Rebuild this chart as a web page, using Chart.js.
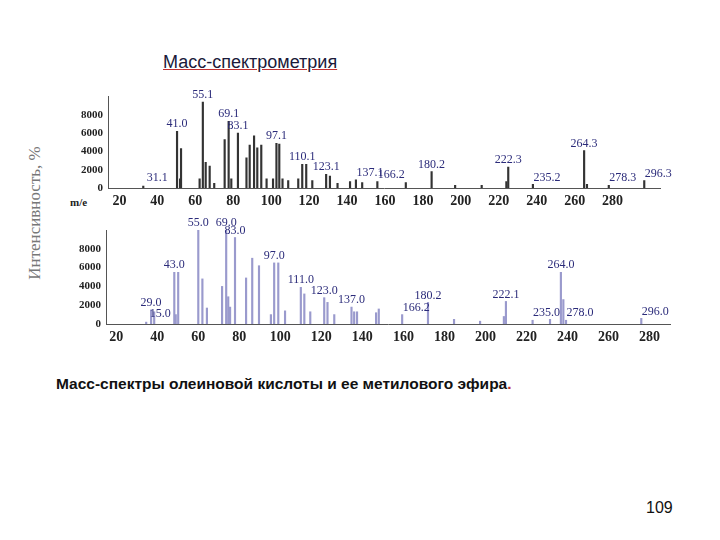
<!DOCTYPE html>
<html><head><meta charset="utf-8">
<script src="https://cdn.jsdelivr.net/npm/chart.js@4"></script>
<style>
body{margin:0;width:720px;height:540px;background:#fff;position:relative;overflow:hidden;font-family:"Liberation Sans",Arial,sans-serif}
.c{position:absolute}
#t{position:absolute;left:163px;top:52px;font-size:18px;color:#1a1a3a;text-decoration:underline;text-decoration-color:#c03030}
#cap{position:absolute;left:56px;top:375px;font-size:15.5px;font-weight:bold;color:#111}
#pg{position:absolute;left:646px;top:499px;font-size:16px;color:#111}
#yl{position:absolute;left:-45px;top:203px;width:160px;text-align:center;transform:rotate(-90deg);font-family:"Liberation Serif",serif;font-size:17px;color:#777}
#me{position:absolute;left:70px;top:196px;font-family:"Liberation Serif",serif;font-weight:bold;font-size:11px;color:#222}
</style></head><body>
<div id="t">Масс-спектрометрия</div>
<div id="yl">Интенсивность, %</div>
<div id="me">m/e</div>
<div class="c" style="left:60px;top:88px;width:630px;height:125px"><canvas id="c1"></canvas></div>
<div class="c" style="left:58px;top:215px;width:622px;height:135px"><canvas id="c2"></canvas></div>
<div id="cap">Масс-спектры олеиновой кислоты и ее метилового эфира<span style="color:#c03030">.</span></div>
<div id="pg">109</div>
<script>
const xTicks=[20,40,60,80,100,120,140,160,180,200,220,240,260,280];
const yTicks=[0,2000,4000,6000,8000];
// top spectrum (oleic acid)
const mz1=[32.6,50.4,52,52.5,62.3,64,65.5,67.6,70,75.5,77.6,79,82.5,87,88.7,91,92.7,94.8,97.6,101,102.8,104.3,106,109,114.3,116.4,118.5,121.7,129,131,135,141.6,144.7,148,156,171,184.6,197,211,224,225,238,265,266.5,278,296.7];
const int1=[200,6200,1000,4300,1000,9400,2800,2400,500,5300,7300,1000,6000,3300,4700,5700,4400,4700,1000,1000,4900,4800,1000,800,1000,2600,2600,800,1500,1300,500,700,900,600,700,600,1800,300,300,700,2300,400,4100,400,300,800];
const lab1=[["31.1",32.6],["41.0",50.4],["55.1",64],["69.1",77.6],["83.1",82.5],["97.1",102.8],["110.1",116.4],["123.1",129],["137.1",144.7],["166.2",156],["180.2",184.6],["222.3",225],["235.2",238],["264.3",265],["278.3",278],["296.3",296.7]];
// bottom spectrum (methyl ester)
const mz2=[34.6,37,38.5,48.3,49,50.2,60,62,64.2,71.6,73.6,74.6,75.5,77.9,83.3,86.3,89.6,95.4,97,99,102.3,110,111.7,114.6,121.4,123,126.3,134.7,136,137.4,146.7,148,159.4,172,184.7,197.4,209,210,223,231.5,236.8,238,239.3,276];
const int2=[200,1500,1300,5500,1000,5500,10000,4800,1700,4000,10000,2900,1800,9200,4900,7000,6200,1000,6500,6500,1400,3900,3200,1300,2800,2300,1000,1800,1300,1300,1200,1600,1000,2300,500,300,800,2400,400,500,5500,2600,400,600];
const lab2=[["15.0",34.6],["29.0",37],["43.0",48.3],["55.0",60],["69.0",73.6],["83.0",77.9],["97.0",97],["111.0",110],["123.0",121.4],["137.0",134.7],["166.2",159.4],["180.2",172],["222.1",210],["235.0",223],["264.0",236.8],["278.0",239.3],["296.0",276]];

const labelPlugin={id:'lab',afterDatasetsDraw(ch,a,o){
  const ctx=ch.ctx,xs=ch.scales.x,ys=ch.scales.y,d=ch.data.datasets[0].data;
  ctx.save();ctx.font='12px "Liberation Serif",serif';ctx.fillStyle='#2b2b7a';ctx.textAlign='center';ctx.textBaseline='bottom';
  ch.options.plugins.lab.items.forEach(([t,m])=>{const p=d.find(q=>q.x===m);const yy=ys.getPixelForValue(Math.max(p.y,300));ctx.fillText(t,xs.getPixelForValue(m)+(p.y<1500?14:0),yy-1);});
  ctx.restore();}};

function make(id,mz,it,labs,col,xmin,xmax,padTop,xh,padR){
  new Chart(document.getElementById(id),{type:'bar',
   data:{datasets:[{data:mz.map((m,i)=>({x:m,y:it[i]})),backgroundColor:col,barThickness:1.5}]},
   options:{responsive:true,maintainAspectRatio:false,animation:false,
    layout:{padding:{top:padTop,right:padR}},
    plugins:{legend:{display:false},tooltip:{enabled:false},lab:{items:labs}},
    scales:{
     x:{type:'linear',offset:false,min:xmin,max:xmax,grid:{display:false,drawTicks:true,tickLength:3},border:{color:'#555'},
        afterBuildTicks:s=>{s.ticks=xTicks.map(v=>({value:v}));},afterFit:s=>{s.height=xh;},
        ticks:{color:'#222',font:{family:'"Liberation Serif",serif',weight:'bold',size:14},maxRotation:0,padding:2}},
     y:{min:0,max:10000,grid:{display:false,tickLength:3},border:{color:'#555'},
        afterBuildTicks:s=>{s.ticks=yTicks.map(v=>({value:v}));},afterFit:s=>{s.width=48;},
        ticks:{color:'#222',font:{family:'"Liberation Serif",serif',weight:'bold',size:11},padding:2,callback:v=>String(v)}}}},
   plugins:[labelPlugin]});
}
make('c1',mz1,int1,lab1,'#333',14,305,7,25,30);
make('c2',mz2,int2,lab2,'#9a9acd',15,290,15,26,10);
</script></body></html>
